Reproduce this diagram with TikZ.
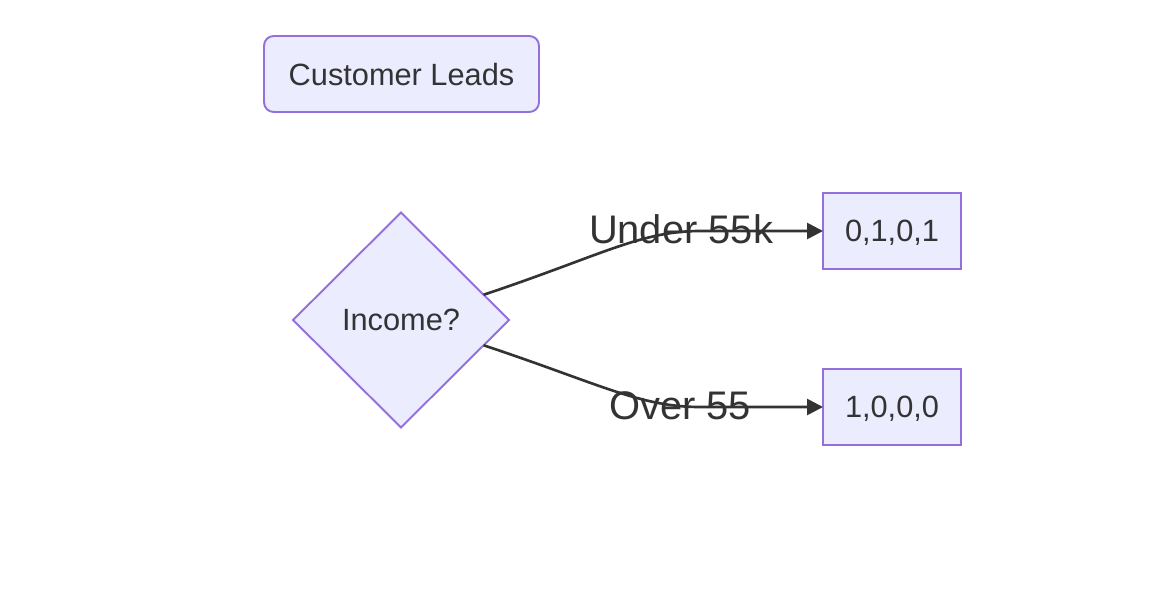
\documentclass[tikz,border=0pt]{standalone}
\usepackage{fontspec}
\setmainfont{Liberation Sans}
\usetikzlibrary{shapes.geometric,arrows.meta}
\definecolor{nodefill}{HTML}{ECECFF}
\definecolor{nodeline}{HTML}{9370DB}
\definecolor{ink}{HTML}{333333}
\begin{document}
\begin{tikzpicture}[x=0.02cm,y=-0.02cm,inner sep=0pt,outer sep=0pt,
box/.style={draw=nodeline,fill=nodefill,line width=1.1pt,text=ink,text depth=0pt,font=\fontsize{17.5}{21}\selectfont},
start/.style={box,rectangle,rounded corners=5.5pt,minimum width=5.5cm,minimum height=1.52cm},
result/.style={box,rectangle,minimum width=2.76cm,minimum height=1.52cm},
decision/.style={box,diamond,minimum width=4.32cm,minimum height=4.3cm},
edgelabel/.style={text=ink,font=\fontsize{22.7}{27}\selectfont,anchor=base},
link/.style={draw=ink,line width=1.5pt,-{Triangle[length=0.32cm,width=0.32cm]}}]
\useasboundingbox (0,0) rectangle (1158,588);
\node[start] (leads) at (401.5,74) {Customer Leads};
\node[decision] (income) at (401,320) {Income?};
\node[result] (low) at (892,231) {0,1,0,1};
\node[result] (high) at (892,407) {1,0,0,0};
\coordinate (lowbend) at (700,231);
\coordinate (highbend) at (700,407);
\draw[link] (income.17) .. controls (600,256) and (640,231) .. (lowbend) -- (low.west);
\draw[link] (income.-17) .. controls (600,384) and (640,407) .. (highbend) -- (high.west);
\node[edgelabel] (lowlabel) at (681,243) {Under 55k};
\node[edgelabel] (highlabel) at (680,419) {Over 55};
\end{tikzpicture}
\end{document}
